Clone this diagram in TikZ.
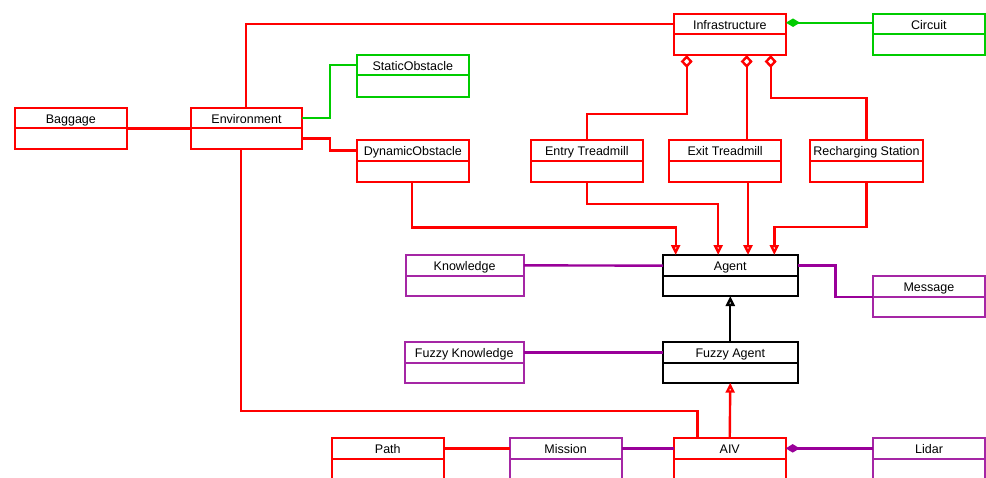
\documentclass[tikz,border=0pt]{standalone}
\usepackage{fontspec}
\setmainfont{Liberation Sans}
\usetikzlibrary{arrows.meta,calc}
\definecolor{cred}{HTML}{FF0000}
\definecolor{cgreen}{HTML}{00CC00}
\definecolor{cpurple}{HTML}{990099}
\definecolor{bpurple}{HTML}{A526A5}
\definecolor{cblack}{HTML}{000000}
\tikzset{
  boxline/.style={line width=2pt},
  conn/.style={line width=2.4pt},
  rl/.style={conn,draw=cred},
  gl/.style={conn,draw=cgreen},
  pl/.style={conn,draw=cpurple},
  bl/.style={conn,draw=cblack},
  inh/.style={-{Triangle[length=10pt,width=9pt,fill=white]}},
  aggr/.style={{Diamond[length=13pt,width=12pt,fill=white]}-},
  comp/.style={{Diamond[length=14pt,width=8.5pt]}-},
  lbl/.style={font=\fontsize{12.5}{14}\selectfont, text=black, text height=10.5pt, text depth=0pt},
}
% name, color, x1, y1, x2, y2, divider offset, text
\newcommand\umlbox[8]{%
  \node[draw=#2, boxline, rectangle, inner sep=0pt, outer sep=0pt,
        minimum width={(#5)-(#3)}, minimum height={(#6)-(#4)}, anchor=north west]
        (#1) at (#3,#4) {};
  \node[inner sep=0pt, outer sep=0pt, minimum width={(#5)-(#3)}, minimum height=#7,
        anchor=north, lbl] (#1h) at (#1.north) {#8};
  \draw[#2, boxline] (#1h.south west) -- (#1h.south east);
}
\begin{document}
\begin{tikzpicture}[x=1pt,y=-1pt]
\useasboundingbox (0,0) rectangle (986,477);
\clip (0,0) rectangle (986,477);
\fill[white] (0,0) rectangle (986,477);

\umlbox{bag}{cred}{14.7}{107.7}{127}{149}{20.7}{Baggage}
\umlbox{env}{cred}{190.7}{107.7}{302.3}{149}{20.7}{Environment}
\umlbox{stat}{cgreen}{356.7}{54.7}{469}{96.7}{20.7}{StaticObstacle}
\umlbox{dyn}{cred}{356.7}{140.3}{469}{182}{20.7}{DynamicObstacle}
\umlbox{infra}{cred}{673.7}{13.7}{786}{55}{20.7}{Infrastructure}
\umlbox{circ}{cgreen}{872.7}{13.7}{985}{55}{20.7}{Circuit}
\umlbox{entry}{cred}{530.7}{140.3}{643}{182}{20.7}{Entry Treadmill}
\umlbox{exit}{cred}{669}{140.3}{781.3}{182}{20.7}{Exit Treadmill}
\umlbox{rech}{cred}{810.3}{140.3}{922.7}{182}{20.7}{Recharging Station}
\umlbox{know}{bpurple}{405.5}{254.7}{523.8}{296}{21.3}{Knowledge}
\umlbox{agent}{cblack}{663}{255}{797.5}{296}{21.3}{Agent}
\umlbox{msg}{bpurple}{872.8}{276}{985}{317.3}{21}{Message}
\umlbox{fk}{bpurple}{404.7}{342.3}{523.8}{382.7}{20.4}{Fuzzy Knowledge}
\umlbox{fa}{cblack}{663}{342.3}{797.5}{382.7}{20.4}{Fuzzy Agent}
\umlbox{path}{cred}{331.9}{437.7}{443.7}{479.2}{21.3}{Path}
\umlbox{mission}{bpurple}{509.7}{437.7}{621.6}{479.2}{21.3}{Mission}
\umlbox{aiv}{cred}{673.8}{437.7}{785.7}{479.2}{21.3}{AIV}
\umlbox{lidar}{bpurple}{873.2}{437.7}{985}{479.2}{21.3}{Lidar}

% Environment relations
\draw[rl] (env.north -| 246,0) |- (infrah.west);
\draw[rl] (bag.east |- 0,128.3) -- (env.west |- 0,128.3);
\draw[gl] (envh.east) -- ++(27.4,0) |- (stath.west);
\draw[rl] (env.east |- 0,138.3) -- (329.7,138.3) |- (dynh.west);
\draw[rl] (env.south -| 241,0) |- (697.3,411) -- (aiv.north -| 697.3,0);

% Infrastructure aggregations / composition
\draw[rl,aggr] (infra.south -| 686.7,0) -- (686.7,114) -| (entry.north);
\draw[rl,aggr] (infra.south -| 746.7,0) -- (exit.north -| 746.7,0);
\draw[rl,aggr] (infra.south -| 770.7,0) -- (770.7,98) -| (rech.north);
\draw[gl,comp] (infra.east |- 0,22.7) -- (circ.west |- 0,22.7);

% Generalizations to Agent
\draw[rl,inh] (dyn.south -| 411.7,0) |- (675.7,227.3) -- (agent.north -| 675.7,0);
\draw[rl,inh] (entry.south) -- ++(0,22) -| (agent.north -| 718.2,0);
\draw[rl,inh] (exit.south -| 748,0) -- (agent.north -| 748,0);
\draw[rl,inh] (rech.south) -- ++(0,44.7) -| (agent.north -| 774.3,0);
\draw[bl,inh] (fa.north) -- (agent.south);
\draw[rl,inh] (aiv.north) -- (fa.south);

% Purple associations
\draw[pl] (knowh.east) -- (agenth.west);
\draw[pl] (agenth.east) -- ++(37.9,0) |- (msgh.south west);
\draw[pl] (fkh.east) -- (fah.west);
\draw[rl] (pathh.east) -- (missionh.west);
\draw[pl] (missionh.east) -- (aivh.west);
\draw[pl,comp] (aivh.east) -- (lidarh.west);
\end{tikzpicture}
\end{document}
